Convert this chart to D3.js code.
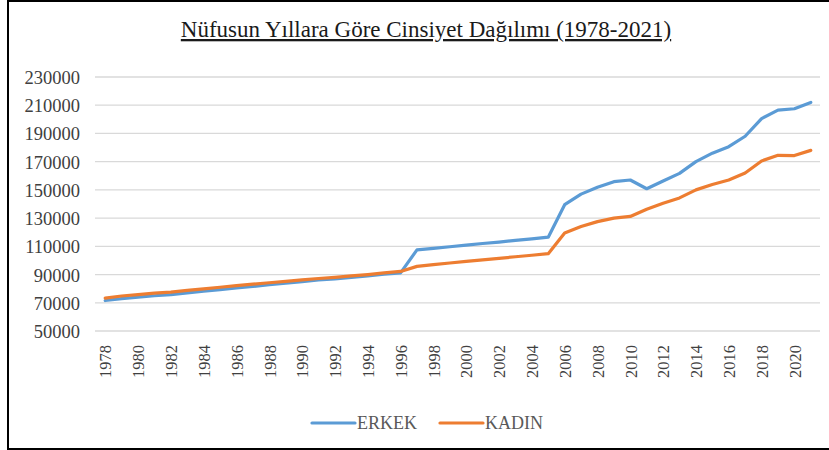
<!DOCTYPE html>
<html>
<head>
<meta charset="utf-8">
<script src="https://cdn.jsdelivr.net/npm/d3@7"></script>
<style>
  html, body { margin: 0; padding: 0; background: #fff; }
  svg { display: block; }
  text { font-family: "Liberation Serif", "Times New Roman", serif; }
</style>
</head>
<body>
<svg id="chart" width="829" height="450"></svg>
<script>
const title = "Nüfusun Yıllara Göre Cinsiyet Dağılımı (1978-2021)";
const years = d3.range(1978, 2022);
const yTicks = [50000, 70000, 90000, 110000, 130000, 150000, 170000, 190000, 210000, 230000];
const xTickYears = years.filter(y => (y - 1978) % 2 === 0);
const seriesNames = ["ERKEK", "KADIN"];
const seriesColors = ["#5B9BD5", "#ED7D31"];
const erkek = [71600, 73000, 74000, 75000, 75800, 77000, 78200, 79300, 80500, 81600,
  82800, 83900, 85000, 86200, 87000, 88000, 89000, 90200, 91200, 107500,
  108500, 109700, 110800, 112000, 113000, 114200, 115300, 116500, 139500, 147000,
  151800, 155800, 157000, 150800, 156300, 161700, 170000, 176000, 180600, 188000,
  200500, 206500, 207500, 212000];
const kadin = [73300, 74800, 75800, 76800, 77600, 78800, 79900, 81000, 82100, 83200,
  84200, 85200, 86200, 87200, 88000, 89000, 90000, 91200, 92200, 95800,
  97000, 98200, 99300, 100400, 101500, 102600, 103700, 104800, 119500, 124000,
  127500, 130000, 131200, 136300, 140600, 144300, 150000, 153800, 157000, 162000,
  170500, 174500, 174300, 178000];

const svg = d3.select("#chart");

// frame
svg.append("path")
  .attr("d", "M 835 1 L 8 1 L 8 449 L 835 449")
  .attr("fill", "none").attr("stroke", "#000").attr("stroke-width", 2);

const x = d3.scalePoint().domain(years).range([97, 819]).padding(0.5);
const y = d3.scaleLinear().domain([50000, 230000]).range([331, 77]);

// gridlines
svg.append("g").selectAll("line").data(yTicks).join("line")
  .attr("x1", 95).attr("x2", 820)
  .attr("y1", d => y(d)).attr("y2", d => y(d))
  .attr("stroke", "#d9d9d9").attr("stroke-width", 1.3);

// y axis labels
const yAxis = d3.axisLeft(y).tickValues(yTicks).tickSize(0).tickPadding(0).tickFormat(d3.format("d"));
const gy = svg.append("g").attr("transform", "translate(80,0)").call(yAxis);
gy.select(".domain").remove();
gy.selectAll("text").attr("font-size", 18.5).attr("fill", "#404040")
  .attr("font-family", "Liberation Serif, serif").attr("dy", "0.35em");

// x axis labels
const xAxis = d3.axisBottom(x).tickValues(xTickYears).tickSize(0).tickPadding(0);
const gx = svg.append("g").attr("transform", "translate(0,345)").call(xAxis);
gx.select(".domain").remove();
gx.selectAll("text")
  .attr("font-size", 16.5).attr("fill", "#404040")
  .attr("font-family", "Liberation Serif, serif")
  .attr("text-anchor", "end")
  .attr("transform", "rotate(-90)")
  .attr("x", 0).attr("y", 0).attr("dy", "0.35em");

// lines
const line = d3.line().x((d, i) => x(years[i])).y(d => y(d));
[erkek, kadin].forEach((s, k) => {
  svg.append("path").datum(s)
    .attr("d", line)
    .attr("fill", "none")
    .attr("stroke", seriesColors[k])
    .attr("stroke-width", 3.2)
    .attr("stroke-linejoin", "round")
    .attr("stroke-linecap", "round");
});

// title
svg.append("text")
  .attr("x", 426).attr("y", 37)
  .attr("text-anchor", "middle")
  .attr("font-size", 23)
  .attr("fill", "#1a1a1a")
  .attr("text-decoration", "underline")
  .text(title);

// legend
const legendX = [312, 440];
seriesNames.forEach((n, k) => {
  const g = svg.append("g").attr("transform", `translate(${legendX[k]},423)`);
  g.append("line").attr("x1", 0).attr("x2", 43).attr("y1", 0).attr("y2", 0)
    .attr("stroke", seriesColors[k]).attr("stroke-width", 3.2).attr("stroke-linecap", "round");
  g.append("text").attr("x", 45).attr("y", 0).attr("dy", "0.35em")
    .attr("font-size", 18).attr("fill", "#595959").text(n);
});
</script>
</body>
</html>
